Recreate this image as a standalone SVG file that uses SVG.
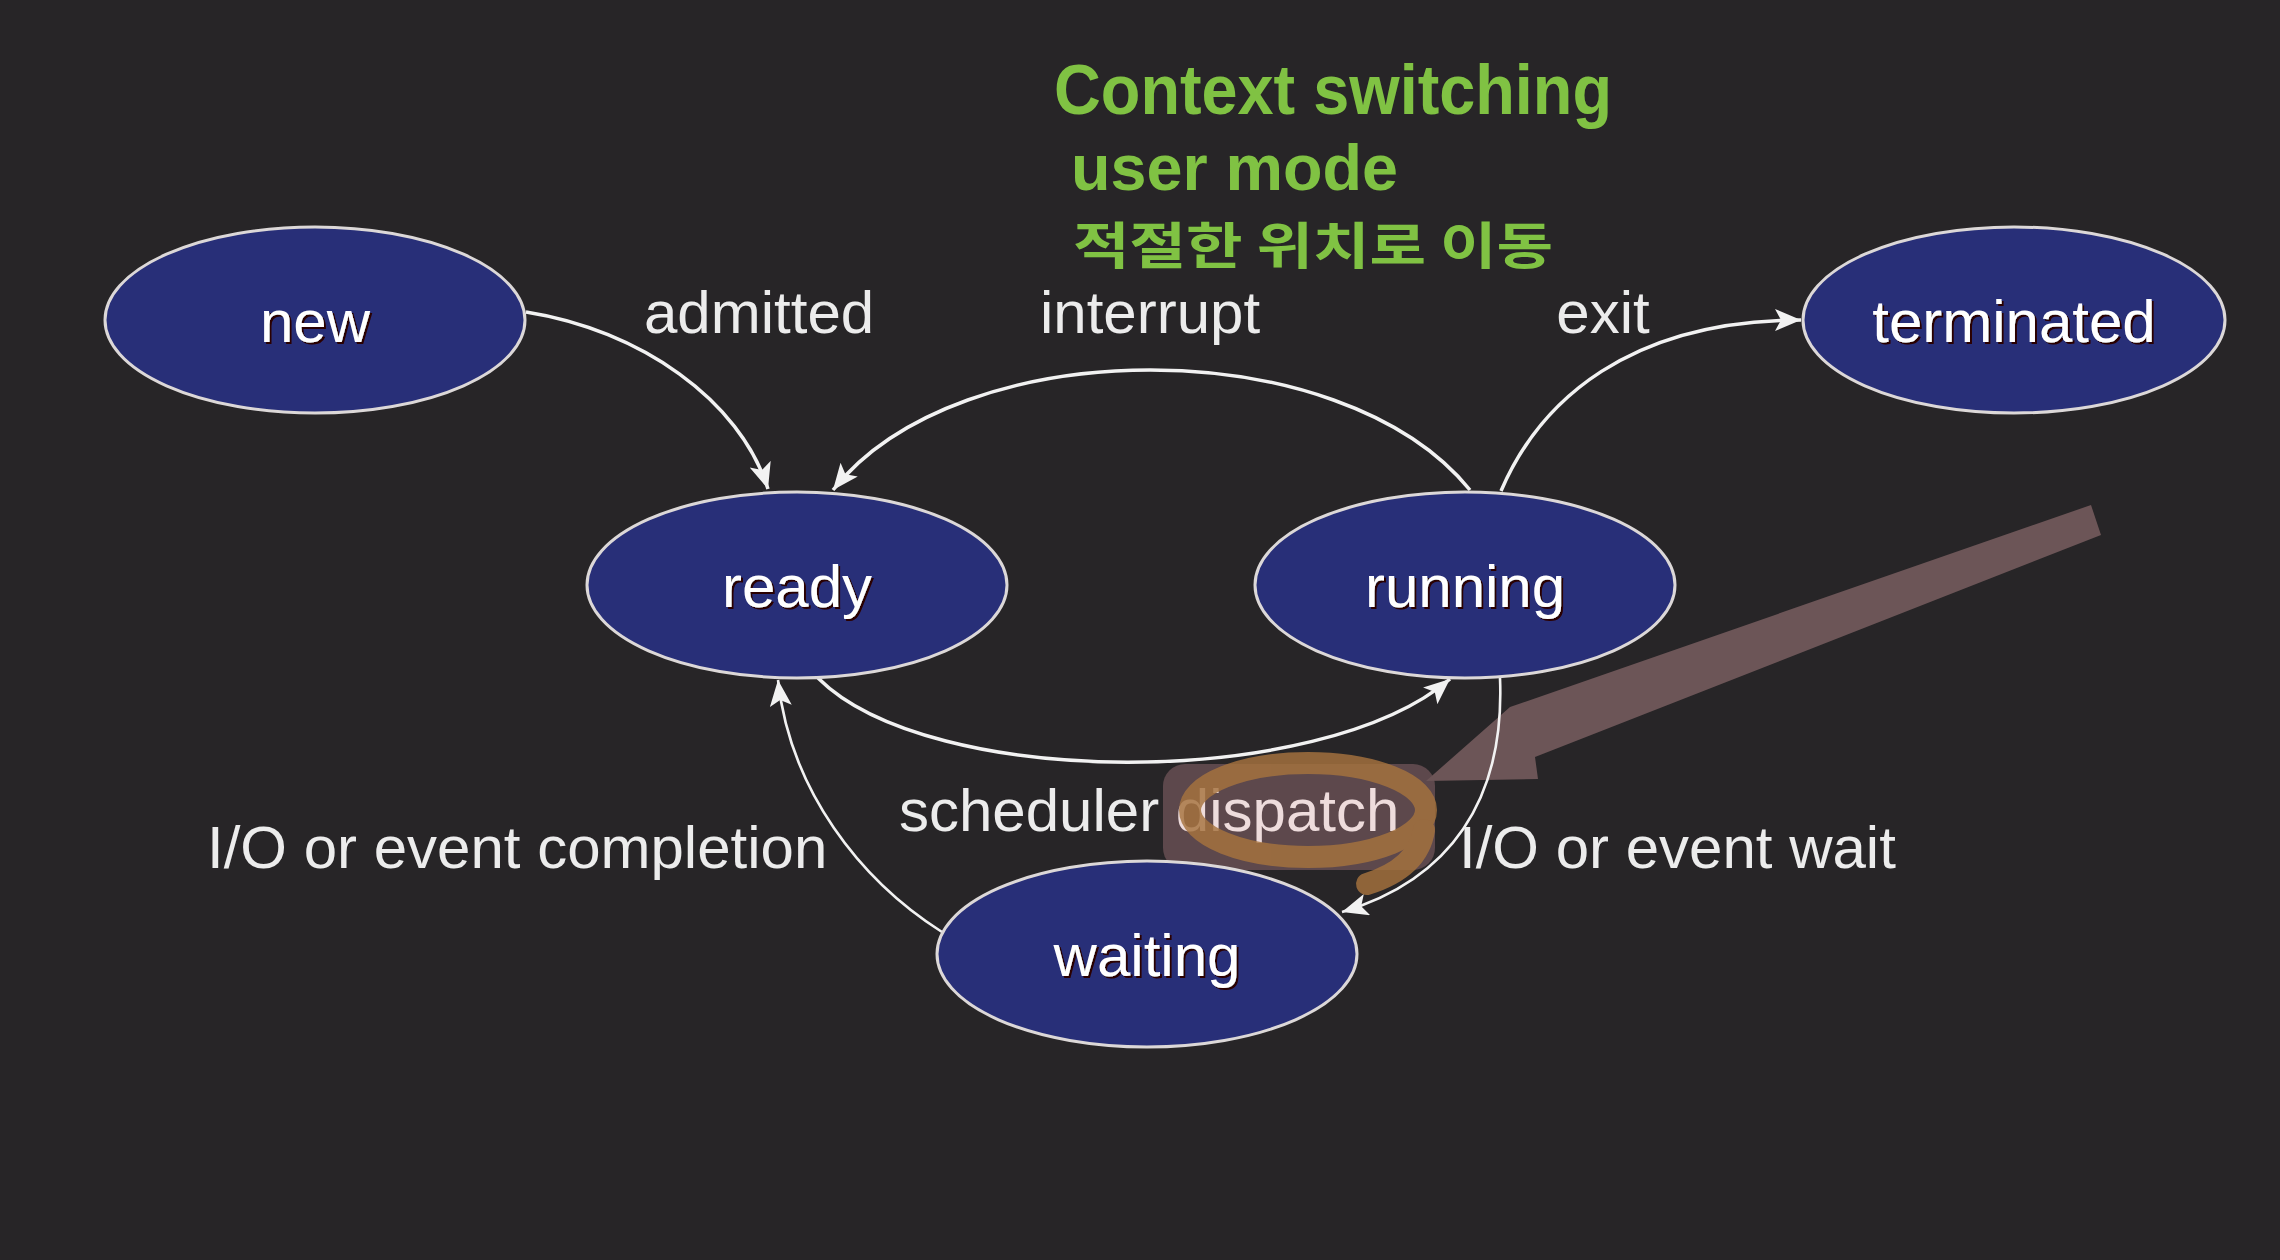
<svg xmlns="http://www.w3.org/2000/svg" width="2280" height="1260" viewBox="0 0 2280 1260">
  <defs>
    <style>
      .node ellipse { fill: #282f78; stroke: #dcd8d8; stroke-width: 3; }
      .node text { font-family: "Liberation Sans", Arial, sans-serif; font-size: 60px; fill: #ffffff; text-anchor: middle; filter: url(#shadow); }
      .edge { fill: none; stroke: #f2f2f2; stroke-width: 3.5; marker-end: url(#arrow); }
      .edge.thin { stroke-width: 2.6; }
      .label { font-family: "Liberation Sans", Arial, sans-serif; font-size: 60px; fill: #ececec; }
      .hand { font-family: "Liberation Sans", "Noto Sans CJK KR", sans-serif; font-weight: 700; fill: #80c243; }
      .hand-kr { font-family: "Noto Sans CJK KR", sans-serif; font-weight: 700; fill: #80c243; }
    </style>
    <filter id="shadow" x="-10%" y="-20%" width="130%" height="150%">
      <feDropShadow dx="2" dy="2" stdDeviation="0.6" flood-color="#2a0000" flood-opacity="1"/>
    </filter>
    <marker id="arrow" markerUnits="userSpaceOnUse" markerWidth="28" markerHeight="24" refX="26" refY="11" orient="auto">
      <path d="M0,0 L26,11 L0,22 L6,11 z" fill="#f2f2f2"/>
    </marker>
  </defs>

  <rect x="0" y="0" width="2280" height="1260" fill="#272527"/>

  <!-- annotation highlights -->
  <g id="highlight">
    <rect x="1163" y="764" width="272" height="106" rx="22" fill="#5d484c"/>
    <polygon points="2091,505 2101,535 1535,757 1538,779 1426,781 1510,707" fill="#6c5557"/>
  </g>

  <g id="connectors">
    <path class="edge" d="M526 312 C 640 330, 740 400, 768 489"/>
    <path class="edge" d="M1470 490 C 1340 330, 960 330, 833 490"/>
    <path class="edge" d="M1501 491 C 1540 400, 1630 320, 1801 320"/>
    <path class="edge" d="M818 678 C 930 790, 1320 790, 1450 679"/>
    <path class="edge thin" d="M1500 678 C 1505 800, 1450 880, 1342 912"/>
    <path class="edge thin" d="M942 932 C 860 880, 790 790, 778 680"/>
  </g>

  <g id="node-new" class="node">
    <ellipse cx="315" cy="320" rx="210" ry="93"/>
    <text x="315" y="342">new</text>
  </g>
  <g id="node-ready" class="node">
    <ellipse cx="797" cy="585" rx="210" ry="93"/>
    <text x="797" y="607">ready</text>
  </g>
  <g id="node-running" class="node">
    <ellipse cx="1465" cy="585" rx="210" ry="93"/>
    <text x="1465" y="607">running</text>
  </g>
  <g id="node-terminated" class="node">
    <ellipse cx="2014" cy="320" rx="211" ry="93"/>
    <text x="2014" y="342">terminated</text>
  </g>
  <g id="node-waiting" class="node">
    <ellipse cx="1147" cy="954" rx="210" ry="93"/>
    <text x="1147" y="976">waiting</text>
  </g>

  <g id="labels">
    <text class="label" x="644" y="333">admitted</text>
    <text class="label" x="1150" y="333" text-anchor="middle">interrupt</text>
    <text class="label" x="1603" y="333" text-anchor="middle">exit</text>
    <text class="label" x="899" y="831">scheduler <tspan fill="#eedcdc">dispatch</tspan></text>
    <text class="label" x="207" y="868">I/O or event completion</text>
    <text class="label" x="1459" y="868">I/O or event wait</text>
  </g>

  <g id="ring" fill="none" stroke="#a6733e" stroke-width="22" stroke-linecap="round" opacity="0.82">
    <ellipse cx="1308" cy="810" rx="118" ry="47"/>
    <path d="M1424 830 Q1418 868 1367 884"/>
  </g>

  <g id="handwriting">
    <text class="hand" x="1054" y="114" font-size="70" textLength="558" lengthAdjust="spacingAndGlyphs">Context switching</text>
    <text class="hand" x="1071" y="190" font-size="64" textLength="327" lengthAdjust="spacingAndGlyphs">user mode</text>
    <text class="hand-kr" x="1073" y="264" font-size="50" textLength="480" lengthAdjust="spacingAndGlyphs">적절한 위치로 이동</text>
  </g>
</svg>
